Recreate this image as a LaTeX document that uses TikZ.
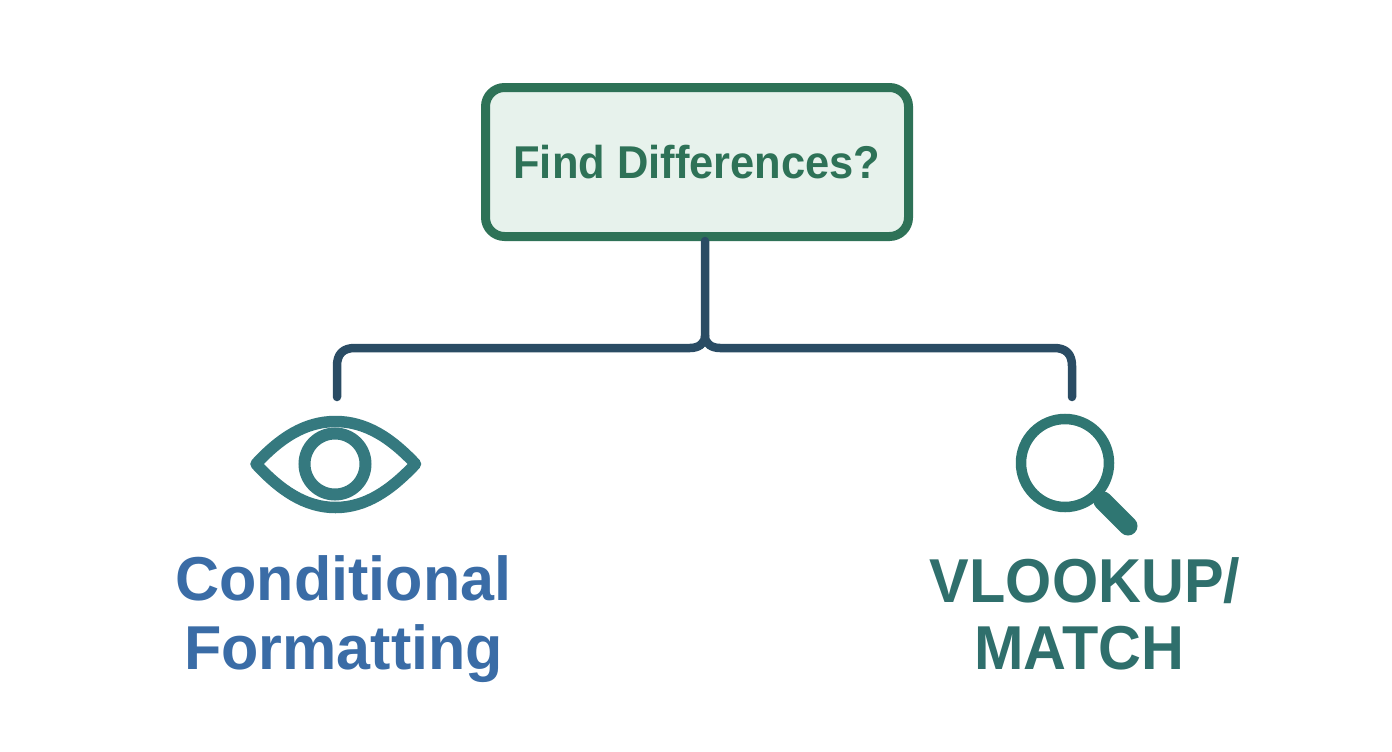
\documentclass[tikz,border=0pt]{standalone}
\usepackage{fontspec}
\setmainfont{Liberation Sans}
\newfontfamily\boxface[FakeStretch=0.945]{Liberation Sans}
\newfontfamily\blueface[FakeStretch=0.985]{Liberation Sans}
\newfontfamily\tealface[FakeStretch=0.958]{Liberation Sans}
\definecolor{boxgreen}{HTML}{2E7257}
\definecolor{boxfill}{HTML}{E7F2EC}
\definecolor{linkblue}{HTML}{2A4C64}
\definecolor{eyeteal}{HTML}{35797F}
\definecolor{lensteal}{HTML}{2F7672}
\definecolor{labelblue}{HTML}{3A6CA6}
\definecolor{labelteal}{HTML}{2F6F6C}
\tikzset{
  qbox/.style={draw=boxgreen,fill=boxfill,line width=9pt,rounded corners=19pt,minimum width=423pt,minimum height=149pt,inner sep=0pt,text=boxgreen,font=\boxface\fontsize{46}{50}\selectfont\bfseries},
  link/.style={draw=linkblue,line width=8.5pt,line cap=round,line join=round},
  iconbox/.style={inner sep=0pt,minimum width=172pt,minimum height=97pt},
  biglabel/.style={align=center,inner sep=0pt,anchor=base},
  bluelabel/.style={biglabel,text=labelblue,font=\blueface\fontsize{62}{70}\selectfont\bfseries},
  teallabel/.style={biglabel,text=labelteal,font=\tealface\fontsize{62}{70}\selectfont\bfseries}
}
\begin{document}
\begin{tikzpicture}[x=1pt,y=-1pt]
\useasboundingbox (0,0) rectangle (1392,752);
\node[qbox] (q) at (697,162) {Find Differences?};
\coordinate (j) at (705,336);
\node[iconbox] (eye) at (335.5,464) {};
\node[iconbox,minimum width=98pt,minimum height=98pt] (lens) at (1065,463) {};
\coordinate (eyetop) at (337,397);
\coordinate (lenstop) at (1072,397);
% connectors
\draw[link] (q.south -| j) -- (j) .. controls (705,344) and (698,348) .. (690,348) -- (355,348) .. controls (343,348) and (337,354) .. (337,366) -- (eyetop);
\draw[link] (j) .. controls (705,344) and (712,348) .. (720,348) -- (1054,348) .. controls (1066,348) and (1072,354) .. (1072,366) -- (lenstop);
% eye
\draw[eyeteal,line width=11.5pt,line join=round] (256,464) .. controls (280,438) and (305,421.5) .. (335.5,421.5) .. controls (366,421.5) and (391,438) .. (415.5,464) .. controls (391,490) and (366,507.5) .. (335.5,507.5) .. controls (305,507.5) and (280,490) .. cycle;
\draw[eyeteal,line width=12pt] (eye.center) ++(-0.5,0) circle[radius=30.5];
% magnifier
\draw[lensteal,line width=10.5pt] (lens.center) circle[radius=44];
\draw[lensteal,line width=19pt,line cap=round] (1103,501) -- (1128,526);
\draw[lensteal,line width=8pt] (1094,492) -- (1103,501);
% labels
\node[bluelabel] (cf1) at (343.5,600) {Conditional};
\node[bluelabel] (cf2) at (343.5,669) {Formatting};
\node[teallabel] (vl1) at (1085,602) {VLOOKUP/};
\node[teallabel] (vl2) at (1079.5,669) {MATCH};
\end{tikzpicture}
\end{document}
